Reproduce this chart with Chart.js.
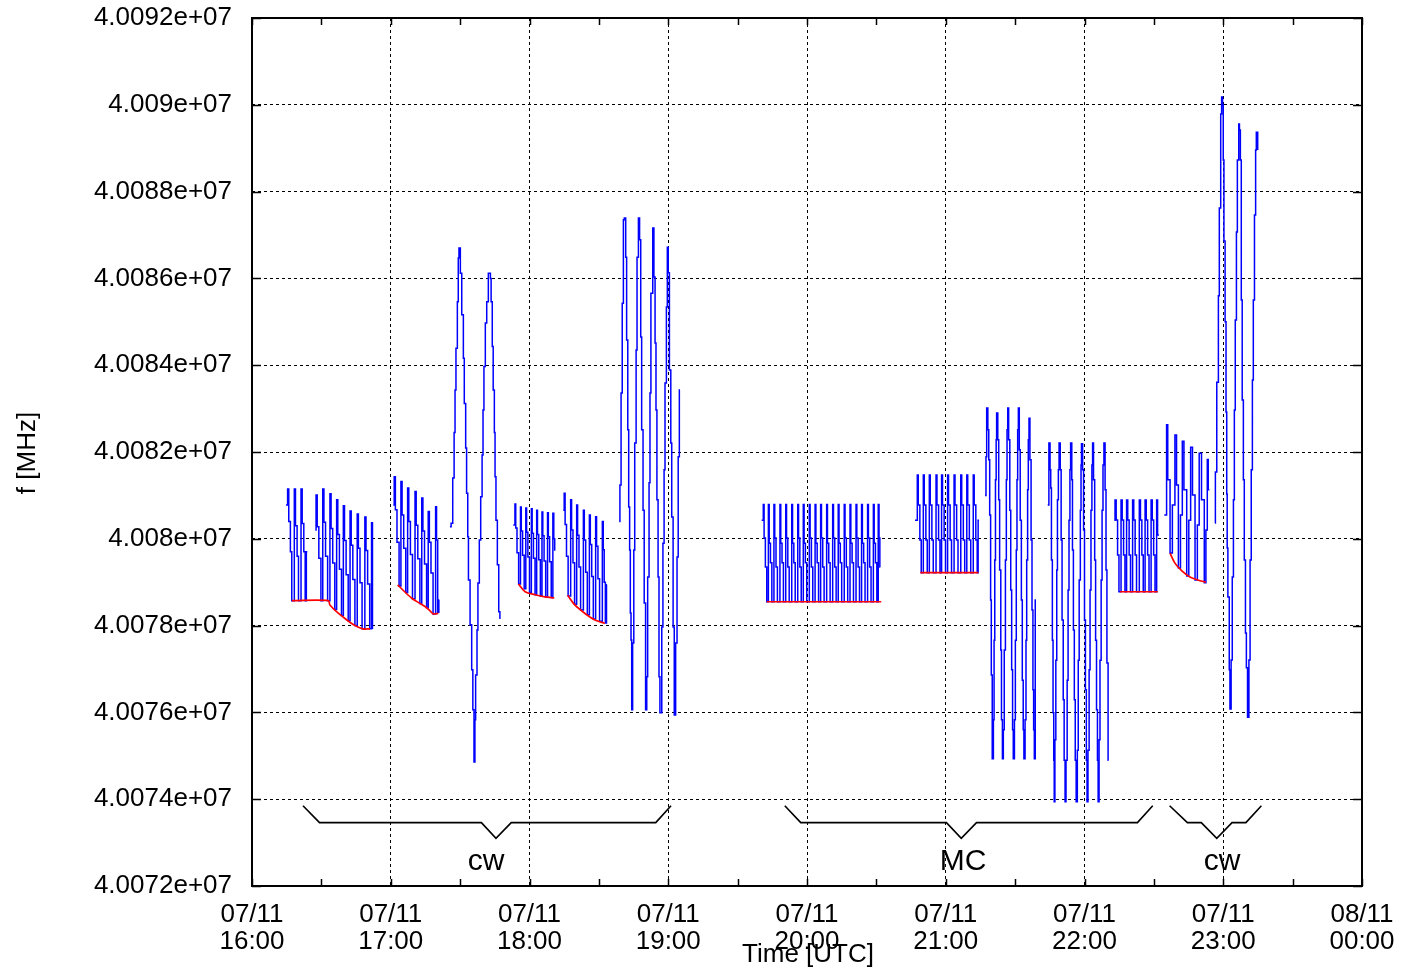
<!DOCTYPE html>
<html>
<head>
<meta charset="utf-8">
<script src="https://cdn.jsdelivr.net/npm/chart.js@4/dist/chart.umd.min.js"></script>
<style>
  html, body { margin: 0; padding: 0; background: #fff; }
  #wrap { width: 1404px; height: 971px; }
</style>
</head>
<body>
<div id="wrap"><canvas id="freq-chart" width="1404" height="971"></canvas></div>
<script>
// time axis: minutes after 07/11 16:00, y: frequency
const xTickLabels = [
  ['07/11', '16:00'], ['07/11', '17:00'], ['07/11', '18:00'], ['07/11', '19:00'],
  ['07/11', '20:00'], ['07/11', '21:00'], ['07/11', '22:00'], ['07/11', '23:00'],
  ['08/11', '00:00']
];

// blue series, one array per measurement block [t, f]
const cw1a = [
  [14.7, 40080780], [15.4, 40081150], [15.9, 40080400], [16.6, 40079700], [17.2, 40078570],
  [18.3, 40081150], [18.8, 40080300], [19.5, 40079600], [20.1, 40078570],
  [21.2, 40081150], [21.7, 40080350], [22.4, 40079700], [23.0, 40078570],
  [23.5, 40079700], [23.9, 40079700]
];
const cw1b = [
  [27.4, 40080200], [27.7, 40081010], [28.2, 40080280], [28.9, 40079550], [29.8, 40078575],
  [30.6, 40081150], [31.1, 40080380], [31.8, 40079600], [32.7, 40078575],
  [33.7, 40081040], [34.2, 40080240], [34.9, 40079440], [35.8, 40078370],
  [36.6, 40080900], [37.1, 40080100], [37.8, 40079300], [38.7, 40078230],
  [39.5, 40080760], [40.0, 40079960], [40.7, 40079170], [41.6, 40078110],
  [42.4, 40080640], [42.9, 40079850], [43.6, 40079060], [44.5, 40078000],
  [45.5, 40080570], [46.0, 40079780], [46.7, 40078990], [47.6, 40077930],
  [48.8, 40080500], [49.3, 40079730], [50.0, 40078960], [50.9, 40077925],
  [51.7, 40080370], [52.1, 40077940], [52.4, 40077940]
];
const cw2 = [
  [61.1, 40080780],
  [61.5, 40081430], [62.0, 40080670], [62.7, 40079920], [63.6, 40078910],
  [64.4, 40081320], [64.9, 40080550], [65.6, 40079780], [66.5, 40078760],
  [67.3, 40081170], [67.8, 40080400], [68.5, 40079640], [69.4, 40078620],
  [70.5, 40081090], [71.0, 40080310], [71.7, 40079540], [72.6, 40078510],
  [73.4, 40080940], [73.9, 40080180], [74.6, 40079420], [75.5, 40078410],
  [76.2, 40080630], [76.7, 40079920], [77.4, 40079210], [78.3, 40078270],
  [79.4, 40080740], [79.8, 40079970], [80.3, 40078310], [80.8, 40078590], [81.0, 40078590]
];
const cw3 = [
  [85.6, 40080280], [86.1, 40080360], [86.8, 40081400], [87.4, 40082450], [87.8, 40083430],
  [88.2, 40084390], [88.8, 40085460], [89.2, 40086470], [89.5, 40086700],
  [90.1, 40086120], [90.7, 40085160], [91.4, 40084160], [91.8, 40083120], [92.4, 40082090],
  [92.8, 40081050], [93.3, 40080050], [93.6, 40079050], [94.3, 40078020], [95.0, 40076980],
  [95.5, 40076060], [96.0, 40074860],
  [96.4, 40075830], [96.7, 40076860], [97.3, 40077900], [97.7, 40078980], [98.3, 40079970],
  [98.9, 40080970], [99.5, 40081930], [99.9, 40082970], [100.3, 40083970], [100.9, 40084970],
  [101.5, 40085460], [102.2, 40086120],
  [103.1, 40086000], [103.4, 40085460], [103.9, 40084430], [104.3, 40083430], [104.8, 40082450],
  [105.1, 40081430], [105.5, 40080430], [106.1, 40079400], [106.7, 40078320], [107.2, 40078170],
  [107.5, 40078170]
];
const cw4 = [
  [113.0, 40080320],
  [113.7, 40080800], [114.05, 40080250], [114.6, 40079680], [115.3, 40078960],
  [116.1, 40080730], [116.45, 40080180], [117.0, 40079620], [117.7, 40078850],
  [118.4, 40080710], [118.75, 40080150], [119.3, 40079580], [120.0, 40078770],
  [120.8, 40080690], [121.15, 40080130], [121.7, 40079550], [122.4, 40078710],
  [123.1, 40080660], [123.45, 40080100], [124.0, 40079520], [124.7, 40078680],
  [125.4, 40080620], [125.75, 40080070], [126.3, 40079490], [127.0, 40078660],
  [127.8, 40080600], [128.15, 40080050], [128.7, 40079470], [129.4, 40078645],
  [130.1, 40080590], [130.5, 40080000], [130.9, 40079740], [131.2, 40079740]
];
const cw5 = [
  [134.6, 40080660],
  [135.0, 40081050], [135.4, 40080330], [136.0, 40079600], [136.7, 40078680],
  [137.8, 40080900], [138.2, 40080200], [138.8, 40079450], [139.5, 40078490],
  [140.4, 40080780], [140.8, 40080080], [141.4, 40079350], [142.1, 40078360],
  [143.3, 40080660], [143.7, 40079970], [144.3, 40079230], [145.0, 40078250],
  [145.9, 40080550], [146.3, 40079870], [146.9, 40079130], [147.6, 40078150],
  [148.6, 40080510], [149.0, 40079830], [149.6, 40079080], [150.3, 40078100],
  [151.5, 40080400], [151.9, 40079750], [152.3, 40079000], [152.8, 40078060],
  [153.3, 40078940], [153.5, 40078940]
];
const cw6 = [
  [158.8, 40080400], [159.1, 40081240], [159.6, 40083360], [160.1, 40085430], [160.6, 40087350],
  [161.0, 40087390], [161.6, 40086490], [162.0, 40084580], [162.5, 40082510], [162.9, 40080730],
  [163.3, 40079740], [163.6, 40078290], [163.9, 40077670], [164.2, 40076060],
  [164.6, 40077600], [165.1, 40079740], [165.5, 40082210], [166.1, 40084350], [166.5, 40086490],
  [167.1, 40087390], [167.6, 40086890], [168.1, 40084650], [168.5, 40082510], [169.1, 40080660],
  [169.6, 40078520], [170.2, 40076060],
  [170.7, 40076820], [171.1, 40079120], [171.7, 40081290], [172.1, 40083360], [172.5, 40085660],
  [173.3, 40087160], [173.8, 40086030], [174.3, 40084510], [174.7, 40082970], [175.1, 40080900],
  [175.6, 40079120], [176.0, 40076820], [176.4, 40075990],
  [177.2, 40077970], [177.7, 40079900], [178.2, 40081590], [178.6, 40083590], [179.2, 40085340],
  [179.6, 40086720], [180.0, 40086130], [180.5, 40083890], [181.1, 40082210], [181.5, 40080500],
  [182.1, 40077970], [182.6, 40075940],
  [183.2, 40077600], [183.8, 40079580], [184.3, 40081890], [184.8, 40083430], [185.1, 40083430]
];
const mc1 = [
  [220.4, 40080430],
  [221.1, 40080790], [221.45, 40080020], [222.0, 40079350], [222.6, 40078550],
  [223.3, 40080790], [223.65, 40079900], [224.2, 40079450], [224.8, 40078550],
  [225.7, 40080790], [226.05, 40080020], [226.6, 40079350], [227.2, 40078550],
  [228.3, 40080790], [228.65, 40079900], [229.2, 40079450], [229.8, 40078550],
  [230.8, 40080790], [231.15, 40080020], [231.7, 40079350], [232.3, 40078550],
  [233.4, 40080790], [233.75, 40079900], [234.3, 40079450], [234.9, 40078550],
  [236.0, 40080790], [236.35, 40080020], [236.9, 40079350], [237.5, 40078550],
  [238.4, 40080790], [238.75, 40079900], [239.3, 40079450], [239.9, 40078550],
  [241.0, 40080790], [241.35, 40080020], [241.9, 40079350], [242.5, 40078550],
  [243.5, 40080790], [243.85, 40079900], [244.4, 40079450], [245.0, 40078550],
  [245.9, 40080790], [246.25, 40080020], [246.8, 40079350], [247.4, 40078550],
  [248.5, 40080790], [248.85, 40079900], [249.4, 40079450], [250.0, 40078550],
  [251.1, 40080790], [251.45, 40080020], [252.0, 40079350], [252.6, 40078550],
  [253.5, 40080790], [253.85, 40079900], [254.4, 40079450], [255.0, 40078550],
  [256.1, 40080790], [256.45, 40080020], [257.0, 40079350], [257.6, 40078550],
  [258.6, 40080790], [258.95, 40079900], [259.5, 40079450], [260.1, 40078550],
  [261.2, 40080790], [261.55, 40080020], [262.1, 40079350], [262.7, 40078550],
  [263.6, 40080790], [263.95, 40079900], [264.5, 40079450], [265.1, 40078550],
  [266.2, 40080790], [266.55, 40080020], [267.1, 40079350], [267.7, 40078550],
  [268.7, 40080790], [269.05, 40079900], [269.6, 40079450], [270.2, 40078550],
  [270.8, 40080790], [271.15, 40080020], [271.5, 40079350], [271.7, 40079350]
];
const mc2 = [
  [286.7, 40080430],
  [287.7, 40081470], [288.1, 40080780], [288.8, 40079970], [289.4, 40079220],
  [290.3, 40081470], [290.7, 40080780], [291.4, 40079970], [292.0, 40079220],
  [292.9, 40081470], [293.3, 40080780], [294.0, 40079970], [294.6, 40079220],
  [295.8, 40081470], [296.2, 40080780], [296.9, 40079970], [297.5, 40079220],
  [298.2, 40081470], [298.6, 40080780], [299.3, 40079970], [299.9, 40079220],
  [300.8, 40081470], [301.2, 40080780], [301.9, 40079970], [302.5, 40079220],
  [303.6, 40081470], [304.0, 40080780], [304.7, 40079970], [305.3, 40079220],
  [306.5, 40081470], [306.9, 40080780], [307.6, 40079970], [308.2, 40079220],
  [309.1, 40081470], [309.5, 40080780], [310.2, 40079970], [310.8, 40079220],
  [311.9, 40081470], [312.3, 40080780], [313.0, 40079970], [313.6, 40079220],
  [314.0, 40080430], [314.4, 40080430]
];
const mc3 = [
  [317.0, 40081000], [317.4, 40081890], [317.7, 40083015],
  [318.2, 40082510], [318.6, 40081820], [319.0, 40080550], [319.4, 40078590], [319.7, 40076860], [320.1, 40074930],
  [320.6, 40075830], [320.9, 40077660], [321.2, 40079510], [321.5, 40081360], [321.8, 40082280], [322.0, 40082900],
  [322.5, 40082280], [322.9, 40080900], [323.3, 40079280], [323.8, 40077440], [324.1, 40075830], [324.5, 40074930],
  [324.9, 40075600], [325.3, 40077440], [325.8, 40079510], [326.2, 40081360], [326.5, 40082510], [326.8, 40083015],
  [327.2, 40082280], [327.7, 40080660], [328.1, 40078820], [328.5, 40076980], [328.9, 40075600], [329.2, 40074930],
  [329.7, 40075830], [330.1, 40077660], [330.5, 40079740], [330.8, 40081360], [331.1, 40082510], [331.4, 40083015],
  [331.8, 40082050], [332.2, 40080430], [332.7, 40078590], [333.1, 40076740], [333.5, 40075600], [333.8, 40074930],
  [334.3, 40075830], [334.7, 40077660], [335.0, 40079510], [335.4, 40081130], [335.7, 40082280], [336.0, 40082780],
  [336.4, 40081820], [336.9, 40079970], [337.3, 40078360], [337.7, 40076520], [338.0, 40075600], [338.3, 40074930],
  [338.7, 40078590], [339.0, 40078590]
];
const mc4 = [
  [344.1, 40080780], [344.6, 40082210],
  [345.1, 40081590], [345.4, 40081170], [345.7, 40079510], [346.1, 40077660], [346.4, 40075990], [346.7, 40074900], [346.9, 40073940],
  [347.2, 40075370], [347.6, 40077200], [348.0, 40079280], [348.3, 40080900], [348.7, 40081590], [349.0, 40082210],
  [349.5, 40081590], [349.9, 40079970], [350.3, 40078130], [350.8, 40076290], [351.2, 40074900], [351.6, 40073940],
  [352.0, 40074900], [352.5, 40076740], [352.9, 40078820], [353.3, 40080430], [353.7, 40081590], [354.0, 40082210],
  [354.5, 40081360], [354.8, 40079740], [355.2, 40077900], [355.6, 40076290], [356.0, 40074900], [356.4, 40073940],
  [356.9, 40075130], [357.3, 40077200], [357.7, 40079050], [358.2, 40080660], [358.5, 40081700], [358.7, 40082190],
  [359.2, 40081590], [359.6, 40080200], [360.0, 40078130], [360.4, 40076520], [360.8, 40074900], [361.1, 40073940],
  [361.5, 40075130], [362.0, 40076980], [362.4, 40078820], [362.8, 40080660], [363.2, 40081700], [363.5, 40082210],
  [363.9, 40081360], [364.4, 40079510], [364.8, 40077660], [365.2, 40076060], [365.6, 40074900], [365.9, 40073940],
  [366.3, 40075370], [366.7, 40077200], [367.2, 40079050], [367.6, 40080660], [368.0, 40081700], [368.4, 40082210],
  [368.9, 40081130], [369.3, 40079280], [369.7, 40077140], [370.2, 40074900], [370.4, 40074900]
];
const mc5 = [
  [372.9, 40080430],
  [373.2, 40080895], [373.7, 40080434], [374.3, 40079627], [374.9, 40078782],
  [375.8, 40080895], [376.3, 40080434], [376.9, 40079627], [377.5, 40078782],
  [378.2, 40080895], [378.7, 40080434], [379.3, 40079627], [379.9, 40078782],
  [380.8, 40080895], [381.3, 40080434], [381.9, 40079627], [382.5, 40078782],
  [383.7, 40080895], [384.2, 40080434], [384.8, 40079627], [385.4, 40078782],
  [386.2, 40080895], [386.7, 40080434], [387.3, 40079627], [387.9, 40078782],
  [388.8, 40080895], [389.3, 40080434], [389.9, 40079627], [390.5, 40078782],
  [391.2, 40080895], [391.6, 40080090], [392.2, 40080090]
];
const cw7 = [
  [394.5, 40080550], [395.5, 40082630], [396.0, 40081360], [397.0, 40079670], [398.0, 40080780],
  [399.1, 40082390], [399.8, 40081240], [400.6, 40079330], [401.5, 40080550],
  [402.3, 40082250], [403.0, 40081130], [404.2, 40079140], [405.1, 40080430],
  [405.9, 40082110], [406.7, 40081010], [407.8, 40079050], [408.8, 40080320],
  [409.6, 40081970], [410.6, 40080900], [411.8, 40078990], [412.5, 40080200],
  [413.1, 40081830], [413.5, 40081130], [414.0, 40081130]
];
const cw8 = [
  [416.4, 40080365], [416.6, 40081540], [417.2, 40083610], [417.9, 40085600], [418.3, 40087620],
  [418.9, 40089790], [419.3, 40090180],
  [419.7, 40090000], [420.0, 40088730], [420.3, 40086860], [420.8, 40085000], [421.2, 40082920],
  [421.5, 40081030], [421.7, 40079790], [422.0, 40078660], [422.6, 40076980], [422.9, 40076080],
  [423.4, 40077210], [423.9, 40079120], [424.4, 40080900], [424.8, 40082970], [425.2, 40085040],
  [425.7, 40087070], [426.1, 40088730], [426.7, 40089560],
  [427.0, 40089420], [427.4, 40088730], [427.8, 40085500], [428.2, 40083200], [428.7, 40081360],
  [429.1, 40079510], [429.6, 40077830], [430.0, 40077030], [430.5, 40075890],
  [431.1, 40077210], [431.6, 40079510], [432.1, 40081590], [432.6, 40083660], [433.0, 40085500],
  [433.5, 40087460], [434.0, 40088960], [434.3, 40089370], [434.9, 40088960]
];

// red lower envelopes
const env1 = [[17.2, 40078575], [33.0, 40078575], [33.7, 40078475], [37.3, 40078285], [41.0, 40078130], [44.5, 40078000], [47.9, 40077925], [51.0, 40077925]];
const env2 = [[63.0, 40078940], [66.0, 40078780], [69.1, 40078630], [72.0, 40078530], [74.8, 40078440], [77.0, 40078340], [78.4, 40078270], [80.6, 40078280]];
const env4 = [[115.2, 40078960], [118.1, 40078780], [122.4, 40078710], [126.7, 40078660], [130.7, 40078640]];
const env5 = [[136.5, 40078700], [139.7, 40078470], [144.0, 40078280], [148.3, 40078130], [152.6, 40078050]];
const envMc1 = [[222.6, 40078550], [272.1, 40078550]];
const envMc2 = [[289.0, 40079220], [314.1, 40079220]];
const envMc5 = [[375.4, 40078780], [391.7, 40078780]];
const env7 = [[397.0, 40079670], [399.1, 40079440], [402.1, 40079260], [405.6, 40079120], [409.0, 40079050], [412.5, 40079000]];

// brace annotations under the data
const braceCw1 = [[22.05, 40073850], [29.2, 40073460], [99.2, 40073460], [105.5, 40073100], [112.1, 40073460], [174.6, 40073460], [181.2, 40073850]];
const braceMc = [[230.4, 40073850], [237.3, 40073460], [300.3, 40073460], [306.7, 40073100], [313.3, 40073460], [382.9, 40073460], [389.5, 40073850]];
const braceCw2 = [[396.8, 40073850], [404.5, 40073460], [410.5, 40073460], [417.2, 40073100], [423.8, 40073460], [429.8, 40073460], [436.5, 40073850]];
const braceLabels = [['cw', 101.2], ['MC', 307.5], ['cw', 419.5]];
const braceLabelY = 40072370;

function joinBlocks(blocks) {
  const out = [];
  blocks.forEach(b => {
    b.forEach(p => out.push({ x: p[0], y: p[1] }));
    out.push({ x: b[b.length - 1][0] + 0.01, y: null });
  });
  return out;
}

function fmtSci(v) {
  let m = (v / 1e7).toPrecision(6);
  m = m.replace(/0+$/, '').replace(/\.$/, '');
  return m + 'e+07';
}

const FONT = 'Liberation Sans, Arial, sans-serif';

const framePlugin = {
  id: 'frame',
  afterDraw(chart) {
    const { ctx, chartArea: a, scales: { x, y } } = chart;
    ctx.save();
    ctx.strokeStyle = '#000';
    ctx.lineWidth = 1.5;
    ctx.beginPath();
    x.ticks.forEach(t => {
      const px = Math.round(x.getPixelForValue(t.value)) + 0.5;
      ctx.moveTo(px, a.bottom); ctx.lineTo(px, a.bottom - 7);
      ctx.moveTo(px, a.top); ctx.lineTo(px, a.top + 7);
    });
    y.ticks.forEach(t => {
      const py = Math.round(y.getPixelForValue(t.value)) + 0.5;
      ctx.moveTo(a.left, py); ctx.lineTo(a.left + 9, py);
      ctx.moveTo(a.right, py); ctx.lineTo(a.right - 9, py);
    });
    ctx.stroke();
    ctx.lineWidth = 2;
    ctx.strokeRect(a.left, a.top, a.width, a.height);

    // brace captions
    ctx.fillStyle = '#000';
    ctx.font = '30px ' + FONT;
    ctx.textAlign = 'center';
    ctx.textBaseline = 'alphabetic';
    braceLabels.forEach(([txt, t]) => {
      ctx.fillText(txt, x.getPixelForValue(t), y.getPixelForValue(braceLabelY));
    });

    // axis titles
    ctx.font = '26px ' + FONT;
    ctx.textBaseline = 'middle';
    ctx.fillText('Time [UTC]', 808, 955);
    ctx.translate(28, 453);
    ctx.rotate(-Math.PI / 2);
    ctx.fillText('f [MHz]', 0, 0);
    ctx.restore();
  }
};

const ctx = document.getElementById('freq-chart').getContext('2d');
new Chart(ctx, {
  type: 'line',
  data: {
    datasets: [
      {
        label: 'envelope',
        data: joinBlocks([env1, env2, env4, env5, envMc1, envMc2, envMc5, env7]),
        borderColor: '#ff0000',
        borderWidth: 1.7,
        pointRadius: 0,
        tension: 0.3,
        spanGaps: false
      },
      {
        label: 'f',
        data: joinBlocks([cw1a, cw1b, cw2, cw3, cw4, cw5, cw6, mc1, mc2, mc3, mc4, mc5, cw7, cw8]),
        borderColor: '#0000ff',
        borderWidth: 1.5,
        pointRadius: 0,
        stepped: true,
        spanGaps: false
      },
      {
        label: 'braces',
        data: joinBlocks([braceCw1, braceMc, braceCw2]),
        borderColor: '#000',
        borderWidth: 1.6,
        pointRadius: 0,
        spanGaps: false
      }
    ]
  },
  options: {
    responsive: false,
    animation: false,
    layout: { padding: { top: 18, right: 42, left: 0, bottom: 0 } },
    plugins: { legend: { display: false }, tooltip: { enabled: false } },
    scales: {
      x: {
        type: 'linear',
        min: 0,
        max: 480,
        afterFit(scale) {
          scale.height = 85;
          scale.paddingLeft = 0;
          scale.paddingRight = 0;
        },
        border: { display: false, dash: [3, 3] },
        grid: {
          drawTicks: false,
          lineWidth: 1,
          color: c => (c.tick && c.tick.value % 60 === 0 ? '#000' : 'rgba(0,0,0,0)')
        },
        ticks: {
          stepSize: 30,
          autoSkip: false,
          maxRotation: 0,
          padding: 15,
          color: '#000',
          font: { family: FONT, size: 26, lineHeight: 1.05 },
          callback: v => (v % 60 === 0 ? xTickLabels[v / 60] : '')
        }
      },
      y: {
        min: 40072000,
        max: 40092000,
        afterFit(scale) {
          scale.width = 252;
          scale.paddingTop = 0;
          scale.paddingBottom = 0;
        },
        border: { display: false, dash: [3, 3] },
        grid: { drawTicks: false, color: '#000', lineWidth: 1 },
        ticks: {
          stepSize: 2000,
          padding: 20,
          color: '#000',
          font: { family: FONT, size: 26 },
          callback: v => fmtSci(v)
        }
      }
    }
  },
  plugins: [framePlugin]
});
</script>
</body>
</html>
